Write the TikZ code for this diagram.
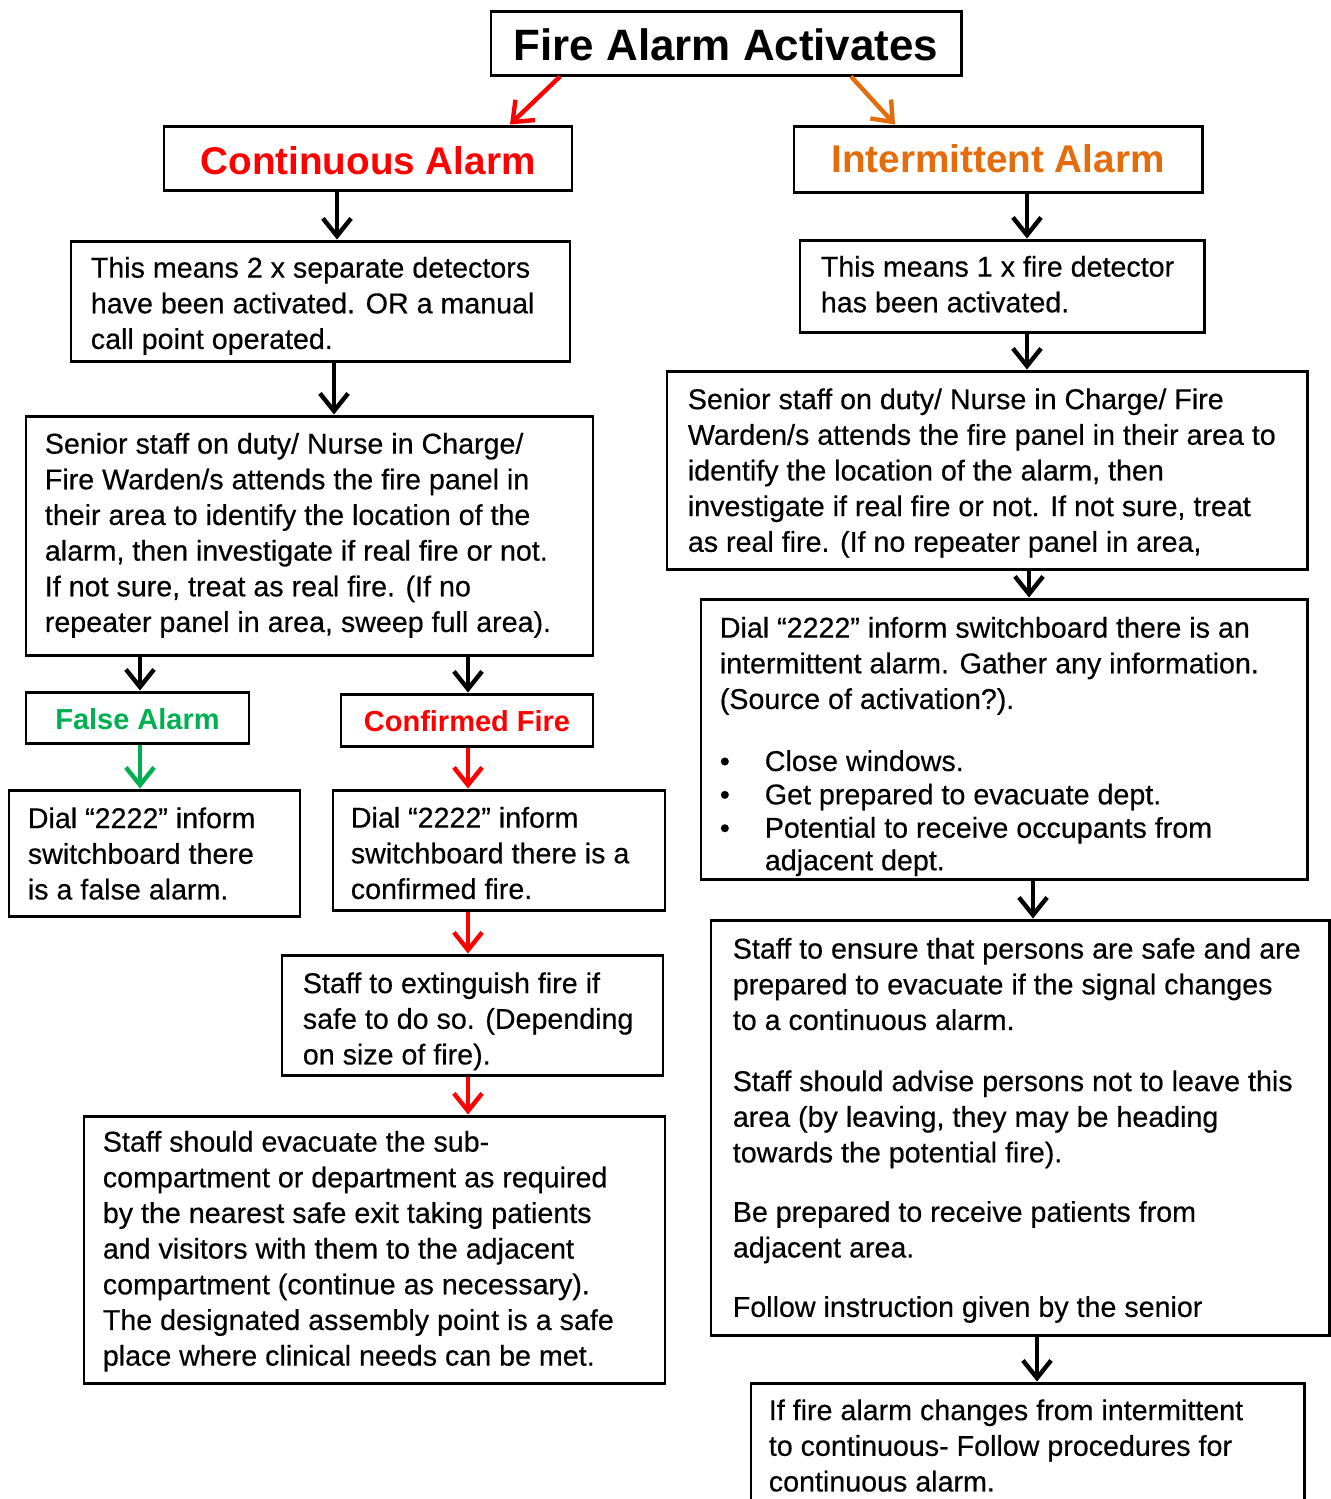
\documentclass[tikz,border=0pt]{standalone}
\usepackage{fontspec}
\setmainfont{Liberation Sans}
\newfontfamily\bodyfont{Liberation Sans}[FakeBold=0.4]
\usetikzlibrary{arrows.meta,fit}

\definecolor{alarmred}{RGB}{255,0,0}
\definecolor{alarmorange}{RGB}{228,108,10}
\definecolor{alarmgreen}{RGB}{0,176,80}

\tikzset{
  box/.style={draw, line width=1.7pt, inner sep=0pt},
  txt/.style={anchor=north west, inner sep=0pt, align=left, font=\bodyfont\fontsize{16.3}{20.3}\selectfont},
  arr/.style={-{Straight Barb[length=10pt,width=16pt]}, line width=2.5pt},
  headbig/.style={font=\bfseries\fontsize{25}{30}\selectfont},
  headmid/.style={font=\bfseries\fontsize{22}{26}\selectfont},
  headsmall/.style={font=\bfseries\fontsize{16.5}{20}\selectfont},
}
\newcommand{\bul}{\makebox[0.9cm][l]{\textbullet}}

\begin{document}
\begin{tikzpicture}[x=0.02cm, y=-0.02cm]
    \useasboundingbox (0,0) rectangle (1331,1499);

    % Heading boxes
    \node[box, fit={(491,11) (961,75)}] (alarm) {};
    \node[box, fit={(164,126) (572,190)}] (cont) {};
    \node[box, fit={(794,126) (1202,192)}] (inter) {};
    \node[box, fit={(26,692) (249,743)}] (falsealarm) {};
    \node[box, fit={(341,694) (593,746)}] (confirmed) {};

    % Heading texts
    \node[headbig] (alarmtext) at ([yshift=-0.04cm]alarm.center) {Fire Alarm Activates};
    \node[headmid, text=alarmred] (conttext) at ([yshift=-0.06cm]cont.center) {Continuous Alarm};
    \node[headmid, text=alarmorange] (intertext) at (inter.center) {Intermittent Alarm};
    \node[headsmall, text=alarmgreen] (falsetext) at ([yshift=-0.03cm]falsealarm.center) {False Alarm};
    \node[headsmall, text=alarmred] (confirmedtext) at ([yshift=-0.02cm]confirmed.center) {Confirmed Fire};

    % Boxes of the continuous branch
    \node[box, fit={(71,241) (570,361)}] (lmean) {};
    \node[box, fit={(26,416) (593,655)}] (lcheck) {};
    \node[box, fit={(9,790) (300,916)}] (fdial) {};
    \node[box, fit={(333,790) (665,910)}] (cdial) {};
    \node[box, fit={(282,955) (663,1075)}] (ext) {};
    \node[box, fit={(84,1116) (665,1383)}] (evac) {};

    % Boxes of the intermittent branch
    \node[box, fit={(800,240) (1204,332)}] (rmean) {};
    \node[box, fit={(667,371) (1307,569)}] (rcheck) {};
    \node[box, fit={(701,599) (1307,879)}] (rdial) {};
    \node[box, fit={(711,920) (1329,1335)}] (ensure) {};
    \node[box, fit={(751,1383) (1304,1530)}] (change) {};

    % Texts
    \node[txt] (lmeantext) at ([shift={(21,17)}]lmean.north west)
        {This means 2 x separate detectors\\ have been activated. OR a manual\\ call point operated.};
    \node[txt] (lchecktext) at ([shift={(20,18)}]lcheck.north west)
        {Senior staff on duty/ Nurse in Charge/\\ Fire Warden/s attends the fire panel in\\ their area to identify the location of the\\ alarm, then investigate if real fire or not.\\ If not sure, treat as real fire. (If no\\ repeater panel in area, sweep full area).};
    \node[txt] (fdialtext) at ([shift={(20,18.5)}]fdial.north west)
        {Dial “2222” inform\\ switchboard there\\ is a false alarm.};
    \node[txt] (cdialtext) at ([shift={(19,18)}]cdial.north west)
        {Dial “2222” inform\\ switchboard there is a\\ confirmed fire.};
    \node[txt] (exttext) at ([shift={(22,18.5)}]ext.north west)
        {Staff to extinguish fire if\\ safe to do so. (Depending\\ on size of fire).};
    \node[txt] (evactext) at ([shift={(20,16)}]evac.north west)
        {Staff should evacuate the sub-\\ compartment or department as required\\ by the nearest safe exit taking patients\\ and visitors with them to the adjacent\\ compartment (continue as necessary).\\ The designated assembly point is a safe\\ place where clinical needs can be met.};
    \node[txt] (rmeantext) at ([shift={(22,17)}]rmean.north west)
        {This means 1 x fire detector\\ has been activated.};
    \node[txt] (rchecktext) at ([shift={(22,18.5)}]rcheck.north west)
        {Senior staff on duty/ Nurse in Charge/ Fire\\ Warden/s attends the fire panel in their area to\\ identify the location of the alarm, then\\ investigate if real fire or not. If not sure, treat\\ as real fire. (If no repeater panel in area,};
    \node[txt] (rdialtext) at ([shift={(20,19)}]rdial.north west)
        {Dial “2222” inform switchboard there is an\\ intermittent alarm. Gather any information.\\ (Source of activation?).\\[15pt]
         \bul Close windows.\\[-1.3pt]
         \bul Get prepared to evacuate dept.\\[-1.3pt]
         \bul Potential to receive occupants from\\[-1.8pt]
         \hspace*{0.9cm}adjacent dept.};
    \node[txt] (ensuretext) at ([shift={(23,19)}]ensure.north west)
        {Staff to ensure that persons are safe and are\\ prepared to evacuate if the signal changes\\ to a continuous alarm.\\[14.5pt]
         Staff should advise persons not to leave this\\ area (by leaving, they may be heading\\ towards the potential fire).\\[13.5pt]
         Be prepared to receive patients from\\ adjacent area.\\[13.5pt]
         Follow instruction given by the senior};
    \node[txt] (changetext) at ([shift={(19,17.5)}]change.north west)
        {If fire alarm changes from intermittent\\ to continuous- Follow procedures for\\ continuous alarm.};

    % Arrows from the first heading
    \draw[arr, alarmred] (alarm.south -| 560,0) -- (cont.north -| 510,0);
    \draw[arr, alarmorange] (alarm.south -| 851,0) -- (inter.north -| 895,0);

    % Black arrows
    \foreach \from/\to/\x in {cont/lmean/337, lmean/lcheck/334, lcheck/falsealarm/140, lcheck/confirmed/468,
                              inter/rmean/1027, rmean/rcheck/1027, rcheck/rdial/1029, rdial/ensure/1033, ensure/change/1037} {
        \draw[arr] (\from.south -| \x,0) -- (\to.north -| \x,0);
    }

    % Coloured arrows
    \draw[arr, alarmgreen] (falsealarm.south -| 140,0) -- (fdial.north -| 140,0);
    \foreach \from/\to in {confirmed/cdial, cdial/ext, ext/evac} {
        \draw[arr, alarmred] (\from.south -| 468,0) -- (\to.north -| 468,0);
    }
\end{tikzpicture}
\end{document}
